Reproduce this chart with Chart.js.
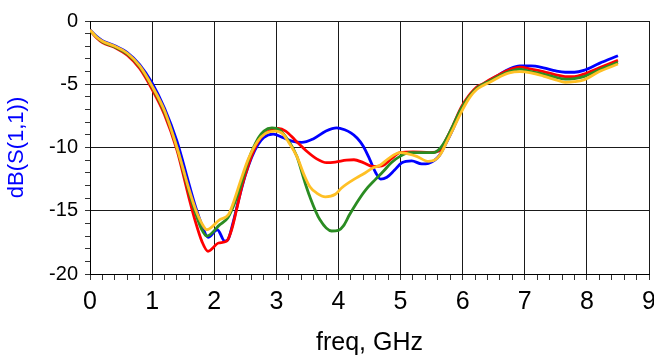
<!DOCTYPE html>
<html>
<head>
<meta charset="utf-8">
<script src="https://cdn.jsdelivr.net/npm/chart.js@4.4.1/dist/chart.umd.min.js"></script>
<style>
  body { margin: 0; background: #fff; }
  canvas { display: block; }
</style>
</head>
<body>
<canvas id="s11-chart" width="654" height="356"></canvas>
<script>
// axis ticks
const xTicks = [0, 1, 2, 3, 4, 5, 6, 7, 8, 9];
const yTicks = [-20, -15, -10, -5, 0];

// dB(S(1,1)) vs freq (GHz)
const freqBlue = [0, 0.1, 0.2, 0.4, 0.6, 0.8, 1.0, 1.2, 1.4, 1.5, 1.6, 1.7, 1.8, 1.9, 2.05, 2.17, 2.22, 2.3, 2.4, 2.5,
    2.6, 2.7, 2.8, 2.95, 3.1, 3.25, 3.41, 3.6, 3.8, 3.97, 4.1, 4.2, 4.3, 4.4, 4.5, 4.6, 4.68, 4.78, 4.9, 5.02,
    5.18, 5.34, 5.45, 5.55, 5.63, 5.74, 5.84, 5.98, 6.1, 6.23, 6.33, 6.45, 6.6, 6.75, 6.92, 7.1, 7.3, 7.5, 7.65, 7.8,
    7.95, 8.2, 8.5];
const s11Blue = [-0.7, -1.2, -1.55, -1.95, -2.5, -3.45, -4.9, -6.9, -9.5, -11.2, -13.0, -14.7, -16.1, -17.1, -16.5, -17.4, -17.3, -16.0, -14.0, -12.2,
    -10.8, -9.8, -9.2, -8.95, -9.2, -9.5, -9.6, -9.3, -8.7, -8.45, -8.6, -8.85, -9.25, -9.9, -10.9, -12.0, -12.5, -12.35, -11.8, -11.2,
    -11.05, -11.3, -11.25, -11.0, -10.6, -9.6, -8.6, -7.0, -6.0, -5.3, -5.0, -4.65, -4.2, -3.8, -3.55, -3.55, -3.7, -3.95, -4.05, -4.05,
    -3.9, -3.35, -2.75];

const freqRed = [0, 0.1, 0.2, 0.4, 0.6, 0.8, 1.0, 1.2, 1.4, 1.5, 1.6, 1.7, 1.8, 1.9, 2.07, 2.2, 2.28, 2.36, 2.45, 2.55,
    2.65, 2.75, 2.9, 3.03, 3.15, 3.3, 3.49, 3.65, 3.81, 3.95, 4.13, 4.25, 4.4, 4.55, 4.7, 4.85, 4.99, 5.2, 5.47, 5.64,
    5.74, 5.84, 5.98, 6.1, 6.23, 6.33, 6.45, 6.6, 6.75, 6.92, 7.1, 7.3, 7.5, 7.65, 7.8, 7.95, 8.2, 8.5];
const s11Red = [-0.75, -1.3, -1.7, -2.1, -2.7, -3.75, -5.4, -7.4, -10.2, -12.1, -14.1, -15.9, -17.4, -18.2, -17.55, -17.4, -16.5, -14.9, -13.0, -11.4,
    -10.1, -9.2, -8.65, -8.5, -8.7, -9.4, -10.3, -10.9, -11.2, -11.15, -11.0, -10.97, -11.2, -11.5, -11.45, -10.9, -10.4, -10.35, -10.4, -10.2,
    -9.3, -8.3, -6.8, -5.9, -5.2, -4.95, -4.6, -4.2, -3.85, -3.65, -3.8, -4.0, -4.25, -4.4, -4.4, -4.2, -3.7, -3.1];

const freqGreen = [0, 0.1, 0.2, 0.4, 0.6, 0.8, 1.0, 1.2, 1.4, 1.5, 1.6, 1.7, 1.8, 1.88, 2.09, 2.22, 2.32, 2.42, 2.55, 2.71,
    2.8, 2.93, 3.05, 3.2, 3.33, 3.45, 3.54, 3.7, 3.89, 4.0, 4.08, 4.18, 4.29, 4.43, 4.6, 4.72, 4.85, 4.99, 5.15, 5.35,
    5.53, 5.63, 5.74, 5.84, 5.98, 6.1, 6.23, 6.33, 6.45, 6.6, 6.75, 6.92, 7.1, 7.3, 7.5, 7.65, 7.8, 7.95, 8.2, 8.5];
const s11Green = [-0.75, -1.25, -1.65, -2.05, -2.6, -3.6, -5.2, -7.2, -10.0, -11.8, -13.6, -15.2, -16.5, -17.0, -16.1, -15.55, -14.5, -13.1, -11.0, -9.25,
    -8.7, -8.45, -8.6, -9.5, -10.7, -12.6, -13.9, -15.7, -16.6, -16.55, -16.2, -15.3, -14.4, -13.4, -12.5, -11.9, -11.2, -10.7, -10.4, -10.4,
    -10.4, -10.1, -9.3, -8.3, -6.9, -6.0, -5.3, -5.0, -4.7, -4.3, -4.0, -3.8, -4.0, -4.2, -4.45, -4.6, -4.55, -4.4, -3.85, -3.27];

const freqOrange = [0, 0.1, 0.2, 0.4, 0.6, 0.8, 1.0, 1.2, 1.4, 1.5, 1.6, 1.7, 1.8, 1.88, 2.09, 2.23, 2.32, 2.42, 2.55, 2.7,
    2.82, 2.98, 3.1, 3.2, 3.33, 3.45, 3.54, 3.65, 3.79, 3.95, 4.05, 4.29, 4.4, 4.56, 4.67, 4.8, 4.99, 5.12, 5.26, 5.45,
    5.58, 5.66, 5.74, 5.85, 6.01, 6.12, 6.23, 6.33, 6.45, 6.6, 6.75, 6.92, 7.1, 7.3, 7.5, 7.65, 7.8, 7.95, 8.2, 8.5];
const s11Orange = [-0.7, -1.25, -1.6, -2.0, -2.55, -3.55, -5.15, -7.1, -10.0, -11.7, -13.4, -14.9, -16.0, -16.5, -15.7, -15.3, -14.2, -12.7, -10.9, -9.5,
    -8.9, -8.7, -8.9, -9.6, -10.7, -12.2, -13.1, -13.6, -13.9, -13.7, -13.2, -12.4, -12.1, -11.6, -11.4, -10.9, -10.4, -10.5, -10.7, -11.1,
    -10.9, -10.4, -9.6, -8.5, -6.9, -6.0, -5.4, -5.1, -4.8, -4.4, -4.1, -4.0, -4.1, -4.35, -4.65, -4.85, -4.8, -4.65, -4.0, -3.4];

function toPoints(xs, ys) {
    return xs.map((x, i) => ({ x: x, y: ys[i] }));
}

function isLabelled(list, v) {
    return list.some(t => Math.abs(t - v) < 1e-6);
}

function curve(xs, ys, color, order) {
    return {
        data: toPoints(xs, ys),
        borderColor: color,
        borderWidth: 2.8,
        pointRadius: 0,
        fill: false,
        cubicInterpolationMode: 'monotone',
        order: order
    };
}

const fontFamily = '"Liberation Sans", Arial, sans-serif';

new Chart(document.getElementById('s11-chart'), {
    type: 'line',
    data: {
        datasets: [
            curve(freqOrange, s11Orange, '#FFC025', 0),
            curve(freqGreen, s11Green, '#2A8C22', 1),
            curve(freqRed, s11Red, '#FF0000', 2),
            curve(freqBlue, s11Blue, '#0000FF', 3)
        ]
    },
    options: {
        responsive: false,
        animation: false,
        devicePixelRatio: 1,
        layout: { padding: { top: 21, right: 5, left: 0, bottom: 0 } },
        plugins: {
            legend: { display: false },
            tooltip: { enabled: false }
        },
        scales: {
            x: {
                type: 'linear',
                min: 0,
                max: 9,
                afterFit: function(scale) {
                    scale.height = 82;
                    scale.paddingLeft = 0;
                    scale.paddingRight = 0;
                },
                ticks: {
                    stepSize: 0.2,
                    autoSkip: false,
                    maxRotation: 0,
                    padding: 7,
                    color: '#000',
                    font: { family: fontFamily, size: 25 },
                    callback: v => isLabelled(xTicks, v) ? String(Math.round(v)) : ''
                },
                grid: {
                    color: ctx => isLabelled(xTicks, ctx.tick.value) ? '#1a1a1a' : 'rgba(0,0,0,0)',
                    tickColor: '#333',
                    tickLength: 6,
                    lineWidth: 1
                },
                border: { color: '#000', width: 1 },
                title: {
                    display: true,
                    text: 'freq, GHz',
                    color: '#000',
                    font: { family: fontFamily, size: 25, lineHeight: 1 },
                    padding: { top: 0, bottom: 0 }
                }
            },
            y: {
                min: -20,
                max: 0,
                afterFit: function(scale) {
                    scale.width = 90;
                    scale.paddingTop = 0;
                    scale.paddingBottom = 0;
                },
                ticks: {
                    stepSize: 1,
                    autoSkip: false,
                    padding: 7,
                    color: '#000',
                    font: { family: fontFamily, size: 20 },
                    callback: v => isLabelled(yTicks, v) ? String(Math.round(v)) : ''
                },
                grid: {
                    color: ctx => isLabelled(yTicks, ctx.tick.value) ? '#1a1a1a' : 'rgba(0,0,0,0)',
                    tickColor: '#333',
                    tickLength: 5,
                    lineWidth: 1
                },
                border: { color: '#000', width: 1 },
                title: {
                    display: true,
                    text: 'dB(S(1,1))',
                    color: '#0000FF',
                    font: { family: fontFamily, size: 22 },
                    padding: { top: 4, bottom: 0 }
                }
            }
        }
    }
});
</script>
</body>
</html>
